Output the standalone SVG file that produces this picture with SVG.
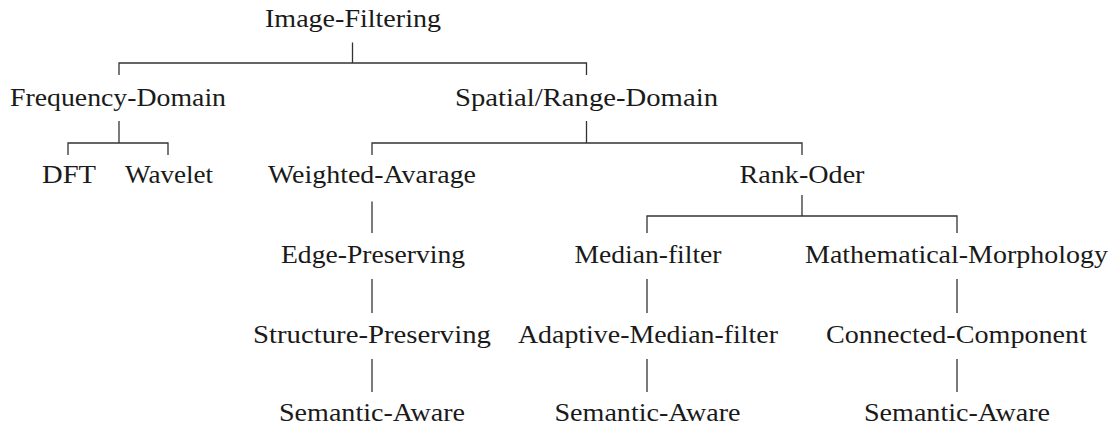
<svg xmlns="http://www.w3.org/2000/svg" width="1115" height="430" viewBox="0 0 1115 430">
<style>
text{font-family:"Liberation Serif","Times New Roman",serif;font-size:25px;fill:#1a1a1a;text-anchor:middle}
.c line{stroke:#333;stroke-width:1.3;fill:none}
</style>
<rect width="1115" height="430" fill="#fff"/>
<g class="c" id="connectors">
<line x1="352.5" y1="42.5" x2="352.5" y2="63"/>
<polyline points="119,75 119,63 586.5,63 586.5,75" fill="none" stroke="#333" stroke-width="1.3"/>
<line x1="119" y1="121" x2="119" y2="143"/>
<polyline points="68,155 68,143 168,143 168,155" fill="none" stroke="#333" stroke-width="1.3"/>
<line x1="586.5" y1="121" x2="586.5" y2="143"/>
<polyline points="372,155 372,143 802,143 802,155" fill="none" stroke="#333" stroke-width="1.3"/>
<line x1="372" y1="201.5" x2="372" y2="233"/>
<line x1="802" y1="195" x2="802" y2="216"/>
<polyline points="647,233 647,216 957,216 957,233" fill="none" stroke="#333" stroke-width="1.3"/>
<line x1="372" y1="279" x2="372" y2="313"/>
<line x1="647" y1="279" x2="647" y2="313"/>
<line x1="957" y1="279" x2="957" y2="313"/>
<line x1="372" y1="359" x2="372" y2="392"/>
<line x1="647" y1="359" x2="647" y2="392"/>
<line x1="957" y1="359" x2="957" y2="392"/>
</g>
<g id="n-root"><text x="353" y="27" textLength="176" lengthAdjust="spacingAndGlyphs">Image-Filtering</text></g>
<g id="n-freq"><text x="118" y="106" textLength="216" lengthAdjust="spacingAndGlyphs">Frequency-Domain</text></g>
<g id="n-spatial"><text x="586.5" y="106" textLength="263" lengthAdjust="spacingAndGlyphs">Spatial/Range-Domain</text></g>
<g id="n-dft"><text x="69" y="183" textLength="54" lengthAdjust="spacingAndGlyphs">DFT</text></g>
<g id="n-wavelet"><text x="169" y="183" textLength="88" lengthAdjust="spacingAndGlyphs">Wavelet</text></g>
<g id="n-weighted"><text x="372" y="183" textLength="208" lengthAdjust="spacingAndGlyphs">Weighted-Avarage</text></g>
<g id="n-rank"><text x="802" y="183" textLength="125" lengthAdjust="spacingAndGlyphs">Rank-Oder</text></g>
<g id="n-edge"><text x="373" y="263" textLength="184" lengthAdjust="spacingAndGlyphs">Edge-Preserving</text></g>
<g id="n-median"><text x="648" y="263" textLength="147" lengthAdjust="spacingAndGlyphs">Median-filter</text></g>
<g id="n-math"><text x="956.5" y="263" textLength="303" lengthAdjust="spacingAndGlyphs">Mathematical-Morphology</text></g>
<g id="n-structure"><text x="372" y="343" textLength="238" lengthAdjust="spacingAndGlyphs">Structure-Preserving</text></g>
<g id="n-adaptive"><text x="648" y="343" textLength="260" lengthAdjust="spacingAndGlyphs">Adaptive-Median-filter</text></g>
<g id="n-connected"><text x="956.5" y="343" textLength="261" lengthAdjust="spacingAndGlyphs">Connected-Component</text></g>
<g id="n-sem1"><text x="372" y="421" textLength="186" lengthAdjust="spacingAndGlyphs">Semantic-Aware</text></g>
<g id="n-sem2"><text x="647.5" y="421" textLength="186" lengthAdjust="spacingAndGlyphs">Semantic-Aware</text></g>
<g id="n-sem3"><text x="957" y="421" textLength="186" lengthAdjust="spacingAndGlyphs">Semantic-Aware</text></g>
</svg>
